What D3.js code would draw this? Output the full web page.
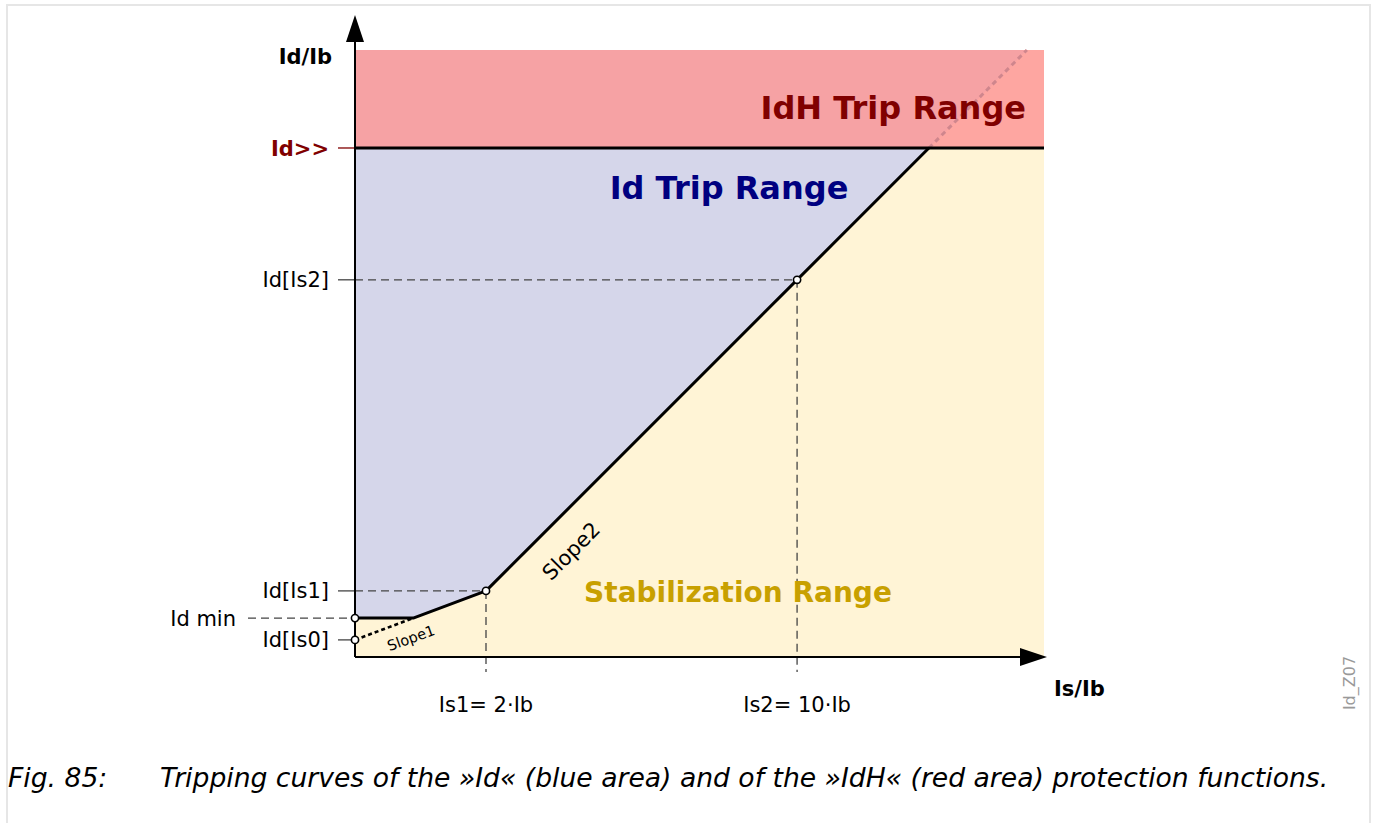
<!DOCTYPE html>
<html>
<head>
<meta charset="utf-8">
<script src="https://cdn.jsdelivr.net/npm/d3@7"></script>
<style>
  html, body { margin: 0; padding: 0; background: #fff; }
  svg { display: block; font-family: "DejaVu Sans", sans-serif; }
</style>
</head>
<body>
<svg id="chart" width="1375" height="823"></svg>
<script>
// Characteristic settings (multiples of Ib)
const xTickValues = [2, 10];                       // Is1, Is2
const xTickLabels = ["Is1= 2·Ib", "Is2= 10·Ib"];
const yTickNames  = ["Id[Is0]", "Id min", "Id[Is1]", "Id[Is2]", "Id>>"];
const yTickValues = [0.44, 1.00, 1.70, 9.70, 13.09];
const slope2 = 1.0;                                 // Id per Is above Is1
const axisMax = { is: 16.35, id: 15.61 };

const W = 1375, H = 823;
const svg = d3.select("#chart");

const [idIs0, idMin, idIs1, idIs2, idHigh] = yTickValues;
const [is1, is2] = xTickValues;

// Schematic axis: stretched segment below Is1, linear above
const x = d3.scaleLinear().domain([0, is1, axisMax.is]).range([355, 486, 1044]);
const y = d3.scaleLinear().domain([0, axisMax.id]).range([657, 50]);

// Break points of the characteristic
const slope1 = (idIs1 - idIs0) / is1;
const isKnee = (idMin - idIs0) / slope1;            // Slope1 meets Id min
const isHigh = is1 + (idHigh - idIs1) / slope2;     // Slope2 meets Id>>
const isTop  = is1 + (axisMax.id - idIs1) / slope2; // Slope2 extended to top

const curve = [[0, idMin], [isKnee, idMin], [is1, idIs1], [isHigh, idHigh], [axisMax.is, idHigh]];
const line = d3.line().x(d => x(d[0])).y(d => y(d[1]));
const poly = pts => pts.map(d => [x(d[0]), y(d[1])].join(",")).join(" ");

// Figure frame
svg.append("path")
  .attr("d", `M7,${H} V5 H1370 V${H}`)
  .attr("fill", "none").attr("stroke", "#e6e6e6").attr("stroke-width", 2);

// Areas
svg.append("polygon")
  .attr("points", poly([[0, 0], ...curve, [axisMax.is, 0]]))
  .attr("fill", "#fff4d6");
svg.append("polygon")
  .attr("points", poly([[0, idHigh], ...curve.slice(0, 4)]))
  .attr("fill", "#d5d6ea");
svg.append("polygon")
  .attr("points", poly([[0, idHigh], [0, axisMax.id], [axisMax.is, axisMax.id], [axisMax.is, idHigh]]))
  .attr("fill", "#f6a2a4");
svg.append("polygon")
  .attr("points", poly([[isHigh, idHigh], [isTop, axisMax.id], [axisMax.is, axisMax.id], [axisMax.is, idHigh]]))
  .attr("fill", "#fea6a1");

// Slope2 continuation inside the IdH range
svg.append("path")
  .attr("d", line([[isHigh, idHigh], [isTop, axisMax.id]]))
  .attr("fill", "none").attr("stroke", "#cf868d").attr("stroke-width", 3)
  .attr("stroke-dasharray", "5,4");

// Guide lines
const grey = "#444";
const guides = svg.append("g").attr("stroke", grey).attr("stroke-width", 1.3).attr("fill", "none");
// y ticks
[idIs0, idIs1, idIs2].forEach(v => {
  guides.append("line").attr("x1", 338).attr("x2", x(0)).attr("y1", y(v)).attr("y2", y(v));
});
guides.append("line").attr("x1", 338).attr("x2", x(0)).attr("y1", y(idHigh)).attr("y2", y(idHigh))
  .attr("stroke", "#800000");
guides.append("line").attr("x1", 248).attr("x2", x(0)).attr("y1", y(idMin)).attr("y2", y(idMin))
  .attr("stroke-dasharray", "8,5");
guides.append("line").attr("x1", x(0)).attr("x2", x(is1)).attr("y1", y(idIs1)).attr("y2", y(idIs1))
  .attr("stroke-dasharray", "8,5");
guides.append("line").attr("x1", x(0)).attr("x2", x(is2)).attr("y1", y(idIs2)).attr("y2", y(idIs2))
  .attr("stroke-dasharray", "8,5");
// x ticks
guides.append("line").attr("x1", x(is1)).attr("x2", x(is1)).attr("y1", y(idIs1)).attr("y2", 672)
  .attr("stroke-dasharray", "8,5");
guides.append("line").attr("x1", x(is2)).attr("x2", x(is2)).attr("y1", y(idIs2)).attr("y2", 672)
  .attr("stroke-dasharray", "8,5");

// Id>> threshold
svg.append("line")
  .attr("x1", x(0)).attr("x2", x(axisMax.is)).attr("y1", y(idHigh)).attr("y2", y(idHigh))
  .attr("stroke", "#000").attr("stroke-width", 3);

// Slope1 below Id min
svg.append("path")
  .attr("d", line([[0, idIs0], [isKnee, idMin]]))
  .attr("fill", "none").attr("stroke", "#000").attr("stroke-width", 2.6)
  .attr("stroke-dasharray", "4,3");

// Tripping characteristic
svg.append("path")
  .attr("d", line(curve.slice(0, 4)))
  .attr("fill", "none").attr("stroke", "#000").attr("stroke-width", 3)
  .attr("stroke-linejoin", "round");

// Axes
svg.append("line").attr("x1", x(0)).attr("x2", x(0)).attr("y1", y(0)).attr("y2", 40)
  .attr("stroke", "#000").attr("stroke-width", 2);
svg.append("path").attr("d", "M355,15 L346,42 L364,42 Z").attr("fill", "#000");
svg.append("line").attr("x1", x(0)).attr("x2", 1022).attr("y1", y(0)).attr("y2", y(0))
  .attr("stroke", "#000").attr("stroke-width", 2);
svg.append("path").attr("d", "M1047,657 L1020,648 L1020,666 Z").attr("fill", "#000");

// Setting points
const pts = [[0, idMin], [0, idIs0], [is1, idIs1], [is2, idIs2]];
svg.selectAll("circle.pt").data(pts).join("circle")
  .attr("class", "pt")
  .attr("cx", d => x(d[0])).attr("cy", d => y(d[1])).attr("r", 3.6)
  .attr("fill", "#fff").attr("stroke", "#000").attr("stroke-width", 1.6);

// Y labels
const yLab = svg.append("g").attr("font-size", 21).attr("text-anchor", "end");
yTickNames.forEach((t, i) => {
  const isHighLabel = i === 4;
  yLab.append("text")
    .attr("x", i === 1 ? 236 : 329)
    .attr("y", y(yTickValues[i]))
    .attr("dy", "0.36em")
    .attr("fill", isHighLabel ? "#800000" : "#000")
    .attr("font-weight", isHighLabel ? "bold" : "normal")
    .text(t);
});

// X labels
svg.append("g").attr("font-size", 21).attr("text-anchor", "middle")
  .selectAll("text").data(xTickValues).join("text")
  .attr("x", d => x(d)).attr("y", 712)
  .text((d, i) => xTickLabels[i]);

// Axis titles
svg.append("text").attr("x", 332).attr("y", 64).attr("text-anchor", "end")
  .attr("font-size", 21).attr("font-weight", "bold").text("Id/Ib");
svg.append("text").attr("x", 1054).attr("y", 696)
  .attr("font-size", 21).attr("font-weight", "bold").text("Is/Ib");

// Range captions
svg.append("text").attr("x", 1026).attr("y", 119).attr("text-anchor", "end")
  .attr("font-size", 32).attr("font-weight", "bold").attr("fill", "#800000").text("IdH Trip Range");
svg.append("text").attr("x", 729).attr("y", 199).attr("text-anchor", "middle")
  .attr("font-size", 32).attr("font-weight", "bold").attr("fill", "#000080").text("Id Trip Range");
svg.append("text").attr("x", 738).attr("y", 602).attr("text-anchor", "middle")
  .attr("font-size", 28).attr("font-weight", "bold").attr("fill", "#c8a000").text("Stabilization Range");

// Slope labels
svg.append("text").attr("transform", "translate(571,551) rotate(-45)")
  .attr("text-anchor", "middle").attr("dy", "0.35em").attr("font-size", 21).text("Slope2");
svg.append("text").attr("transform", "translate(411,638) rotate(-20)")
  .attr("text-anchor", "middle").attr("dy", "0.35em").attr("font-size", 14.5).text("Slope1");

// Drawing id
svg.append("text").attr("transform", "translate(1349,683) rotate(-90)")
  .attr("text-anchor", "middle").attr("dy", "0.35em").attr("font-size", 16).attr("fill", "#999")
  .text("Id_Z07");

// Caption
const cap = svg.append("g").attr("font-size", 26.6).attr("font-style", "italic").attr("fill", "#000");
cap.append("text").attr("x", 8).attr("y", 787).text("Fig. 85:");
cap.append("text").attr("x", 160).attr("y", 787)
  .text("Tripping curves of the »Id« (blue area) and of the »IdH« (red area) protection functions.");
</script>
</body>
</html>
